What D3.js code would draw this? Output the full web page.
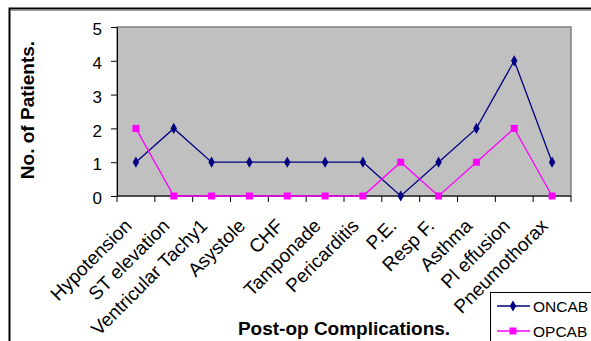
<!DOCTYPE html>
<html>
<head>
<meta charset="utf-8">
<script src="https://cdn.jsdelivr.net/npm/d3@7/dist/d3.min.js"></script>
<style>
  html, body { margin: 0; padding: 0; background: #fff; }
  svg { display: block; font-family: Arial, "Liberation Sans", sans-serif; }
</style>
</head>
<body>
<svg id="chart" width="591" height="341"></svg>
<script>
// Post-operative complications by surgery type
const categories = ["Hypotension", "ST elevation", "Ventricular Tachy1", "Asystole", "CHF",
  "Tamponade", "Pericarditis", "P.E.", "Resp F.", "Asthma", "Pl effusion", "Pneumothorax"];
const oncab = [1, 2, 1, 1, 1, 1, 1, 0, 1, 2, 4, 1];
const opcab = [2, 0, 0, 0, 0, 0, 0, 1, 0, 1, 2, 0];
const yTicks = [0, 1, 2, 3, 4, 5];
const seriesNames = ["ONCAB", "OPCAB"];
const seriesColors = ["#000080", "#FF00FF"];

const svg = d3.select("#chart");
const plot = { left: 117, right: 571, top: 27, bottom: 196 };

// outer chart frame
svg.append("rect")
  .attr("x", 9.5).attr("y", 8.5).attr("width", 620).attr("height", 400)
  .attr("fill", "none").attr("stroke", "#000").attr("stroke-width", 2);
svg.append("line")
  .attr("x1", 11).attr("x2", 591).attr("y1", 10.5).attr("y2", 10.5)
  .attr("stroke", "#999").attr("stroke-width", 1);

const x = d3.scaleBand().domain(categories).range([plot.left, plot.right]).padding(0);
const y = d3.scaleLinear().domain([0, 5]).range([plot.bottom, plot.top]);

// plot area
svg.append("rect")
  .attr("x", plot.left).attr("y", plot.top)
  .attr("width", plot.right - plot.left).attr("height", plot.bottom - plot.top)
  .attr("fill", "#C0C0C0").attr("stroke", "#808080").attr("stroke-width", 1.5);

// y axis
const yAxis = svg.append("g")
  .attr("transform", `translate(${plot.left},0)`)
  .call(d3.axisLeft(y).tickValues(yTicks).tickFormat(d3.format("d")).tickSize(6).tickSizeOuter(0));
yAxis.select(".domain").attr("stroke", "#000");
yAxis.selectAll(".tick line").attr("stroke", "#000");
yAxis.selectAll(".tick text")
  .attr("font-size", 17).attr("fill", "#000")
  .attr("font-family", "Arial, 'Liberation Sans', sans-serif")
  .attr("x", -15).attr("dy", "0.45em");

// x axis with ticks at category boundaries
const xAxisG = svg.append("g").attr("transform", `translate(0,${plot.bottom})`);
xAxisG.append("line")
  .attr("x1", plot.left).attr("x2", plot.right).attr("y1", 0).attr("y2", 0)
  .attr("stroke", "#000");
const bounds = categories.map(c => x(c)).concat([x(categories[categories.length - 1]) + x.bandwidth()]);
xAxisG.selectAll("line.tk").data(bounds).enter().append("line")
  .attr("class", "tk")
  .attr("x1", d => d).attr("x2", d => d).attr("y1", 0).attr("y2", 6)
  .attr("stroke", "#000");

// rotated category labels
svg.append("g").selectAll("text").data(categories).enter().append("text")
  .attr("transform", d => `translate(${x(d) + x.bandwidth() / 2 - 3},${plot.bottom + 31}) rotate(-45)`)
  .attr("text-anchor", "end")
  .attr("font-size", 19)
  .attr("fill", "#000")
  .text(d => d);

// axis titles
svg.append("text")
  .attr("x", 344).attr("y", 335)
  .attr("text-anchor", "middle")
  .attr("font-size", 19).attr("font-weight", "bold")
  .text("Post-op Complications.");
svg.append("text")
  .attr("transform", "translate(34,110) rotate(-90)")
  .attr("text-anchor", "middle")
  .attr("font-size", 19).attr("font-weight", "bold")
  .text("No. of Patients.");

// series lines and markers
const cx = (d, i) => x(categories[i]) + x.bandwidth() / 2;
const line = d3.line().x(cx).y(d => y(d));
const series = [oncab, opcab];

series.forEach((vals, s) => {
  svg.append("path")
    .datum(vals)
    .attr("d", line)
    .attr("fill", "none")
    .attr("stroke", seriesColors[s])
    .attr("stroke-width", 1.3);
});

const diamond = d3.symbol().type(d3.symbolDiamond).size(36);
const square = d3.symbol().type(d3.symbolSquare).size(49);

svg.append("g").selectAll("path").data(oncab).enter().append("path")
  .attr("transform", (d, i) => `translate(${cx(d, i)},${y(d)})`)
  .attr("d", diamond)
  .attr("fill", seriesColors[0]);

svg.append("g").selectAll("path").data(opcab).enter().append("path")
  .attr("transform", (d, i) => `translate(${cx(d, i)},${y(d)})`)
  .attr("d", square)
  .attr("fill", seriesColors[1]);

// legend
const legend = svg.append("g");
legend.append("rect")
  .attr("x", 490.5).attr("y", 292.5).attr("width", 120).attr("height", 80)
  .attr("fill", "#fff").attr("stroke", "#000").attr("stroke-width", 1);
const legY = [306, 331];
seriesNames.forEach((name, s) => {
  legend.append("line")
    .attr("x1", 497).attr("x2", 530).attr("y1", legY[s]).attr("y2", legY[s])
    .attr("stroke", seriesColors[s]).attr("stroke-width", 1.3);
  legend.append("path")
    .attr("transform", `translate(513,${legY[s]})`)
    .attr("d", s === 0 ? diamond() : square())
    .attr("fill", seriesColors[s]);
  legend.append("text")
    .attr("x", 533).attr("y", legY[s]).attr("dy", "0.36em")
    .attr("font-size", 15.5)
    .text(name);
});
</script>
</body>
</html>
